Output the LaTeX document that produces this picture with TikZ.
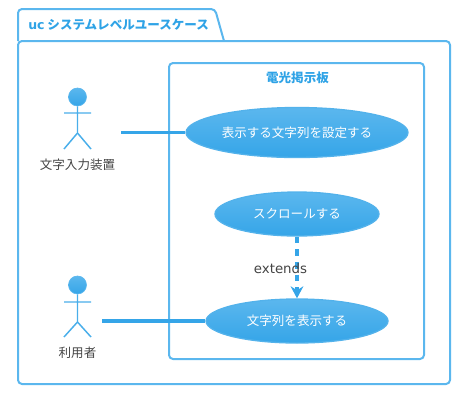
\documentclass[tikz,border=0pt]{standalone}
\usepackage{fontspec}
\setmainfont{Noto Sans CJK JP}
\newfontfamily\latinfont{DejaVu Sans}
\usetikzlibrary{shapes.geometric,arrows.meta}
\definecolor{framecol}{HTML}{5BB7EE}
\definecolor{linecol}{HTML}{35A5E8}
\definecolor{labelcol}{HTML}{444444}
\definecolor{titlecol}{HTML}{2FA3E6}
\tikzset{
  frameline/.style={line width=1.5pt,framecol,rounded corners=3pt},
  usecase/.style={ellipse,draw=linecol!85!white,line width=1pt,top color=framecol,bottom color=linecol,
    text=white,inner sep=0pt,font=\fontsize{9.4pt}{11pt}\selectfont},
  limb/.style={line width=1.1pt,linecol!90!white},
  assoc/.style={line width=2.6pt,linecol},
  actorlabel/.style={text=labelcol,inner sep=0pt,font=\fontsize{9.4pt}{11pt}\selectfont},
  head/.style={circle,inner sep=0pt,minimum size=13.5pt,draw=framecol,line width=0.5pt,top color=framecol,bottom color=linecol},
}
\begin{document}
\begin{tikzpicture}[x=0.75pt,y=-0.75pt]
  \useasboundingbox (0,0) rectangle (476,405);
  \draw[frameline] (18,41) rectangle (450,384);
  \draw[frameline] (18,41) -- (18,9) -- (215,9) -- (224,41);
  \node[text=titlecol,inner sep=0pt,anchor=west,font=\fontsize{9.4pt}{11pt}\selectfont\bfseries] (title) at (28,25) {{\latinfont uc} システムレベルユースケース};
  \draw[frameline] (169,63) rectangle (424,359);
  \node[text=titlecol,inner sep=0pt,font=\fontsize{9.4pt}{11pt}\selectfont\bfseries] (board) at (297.5,78) {電光掲示板};

  % actors
  \node[head] (inputhead) at (77.5,97) {};
  \draw[limb] (inputhead.south) -- (77.5,133) (64,113) -- (91,113) (64,149) -- (77.5,133) -- (91,149);
  \node[actorlabel] (input) at (77.5,165) {文字入力装置};
  \node[head] (userhead) at (77.5,285) {};
  \draw[limb] (userhead.south) -- (77.5,322) (64,302) -- (91,302) (64,337) -- (77.5,322) -- (91,337);
  \node[actorlabel] (user) at (77.5,353) {利用者};
  \coordinate (inputend) at (121,132.5);
  \coordinate (userend) at (102,321);

  % use cases
  \node[usecase,minimum width=166.5pt,minimum height=37.5pt] (settext) at (297,132.5) {表示する文字列を設定する};
  \node[usecase,minimum width=123pt,minimum height=33pt] (scroll) at (297,214) {スクロールする};
  \node[usecase,minimum width=136.5pt,minimum height=33pt] (show) at (297,321) {文字列を表示する};

  \draw[assoc] (inputend) -- (settext.west);
  \draw[assoc] (userend) -- (show.west);
  \draw[line width=2.6pt,linecol,dash pattern=on 5pt off 4.5pt,-{Stealth[length=9pt,width=9.5pt]}] (scroll.south) -- (show.north);
  \node[text=labelcol,inner sep=0pt,font=\fontsize{10pt}{12pt}\selectfont\latinfont] (extends) at (280.5,269) {extends};
\end{tikzpicture}
\end{document}
